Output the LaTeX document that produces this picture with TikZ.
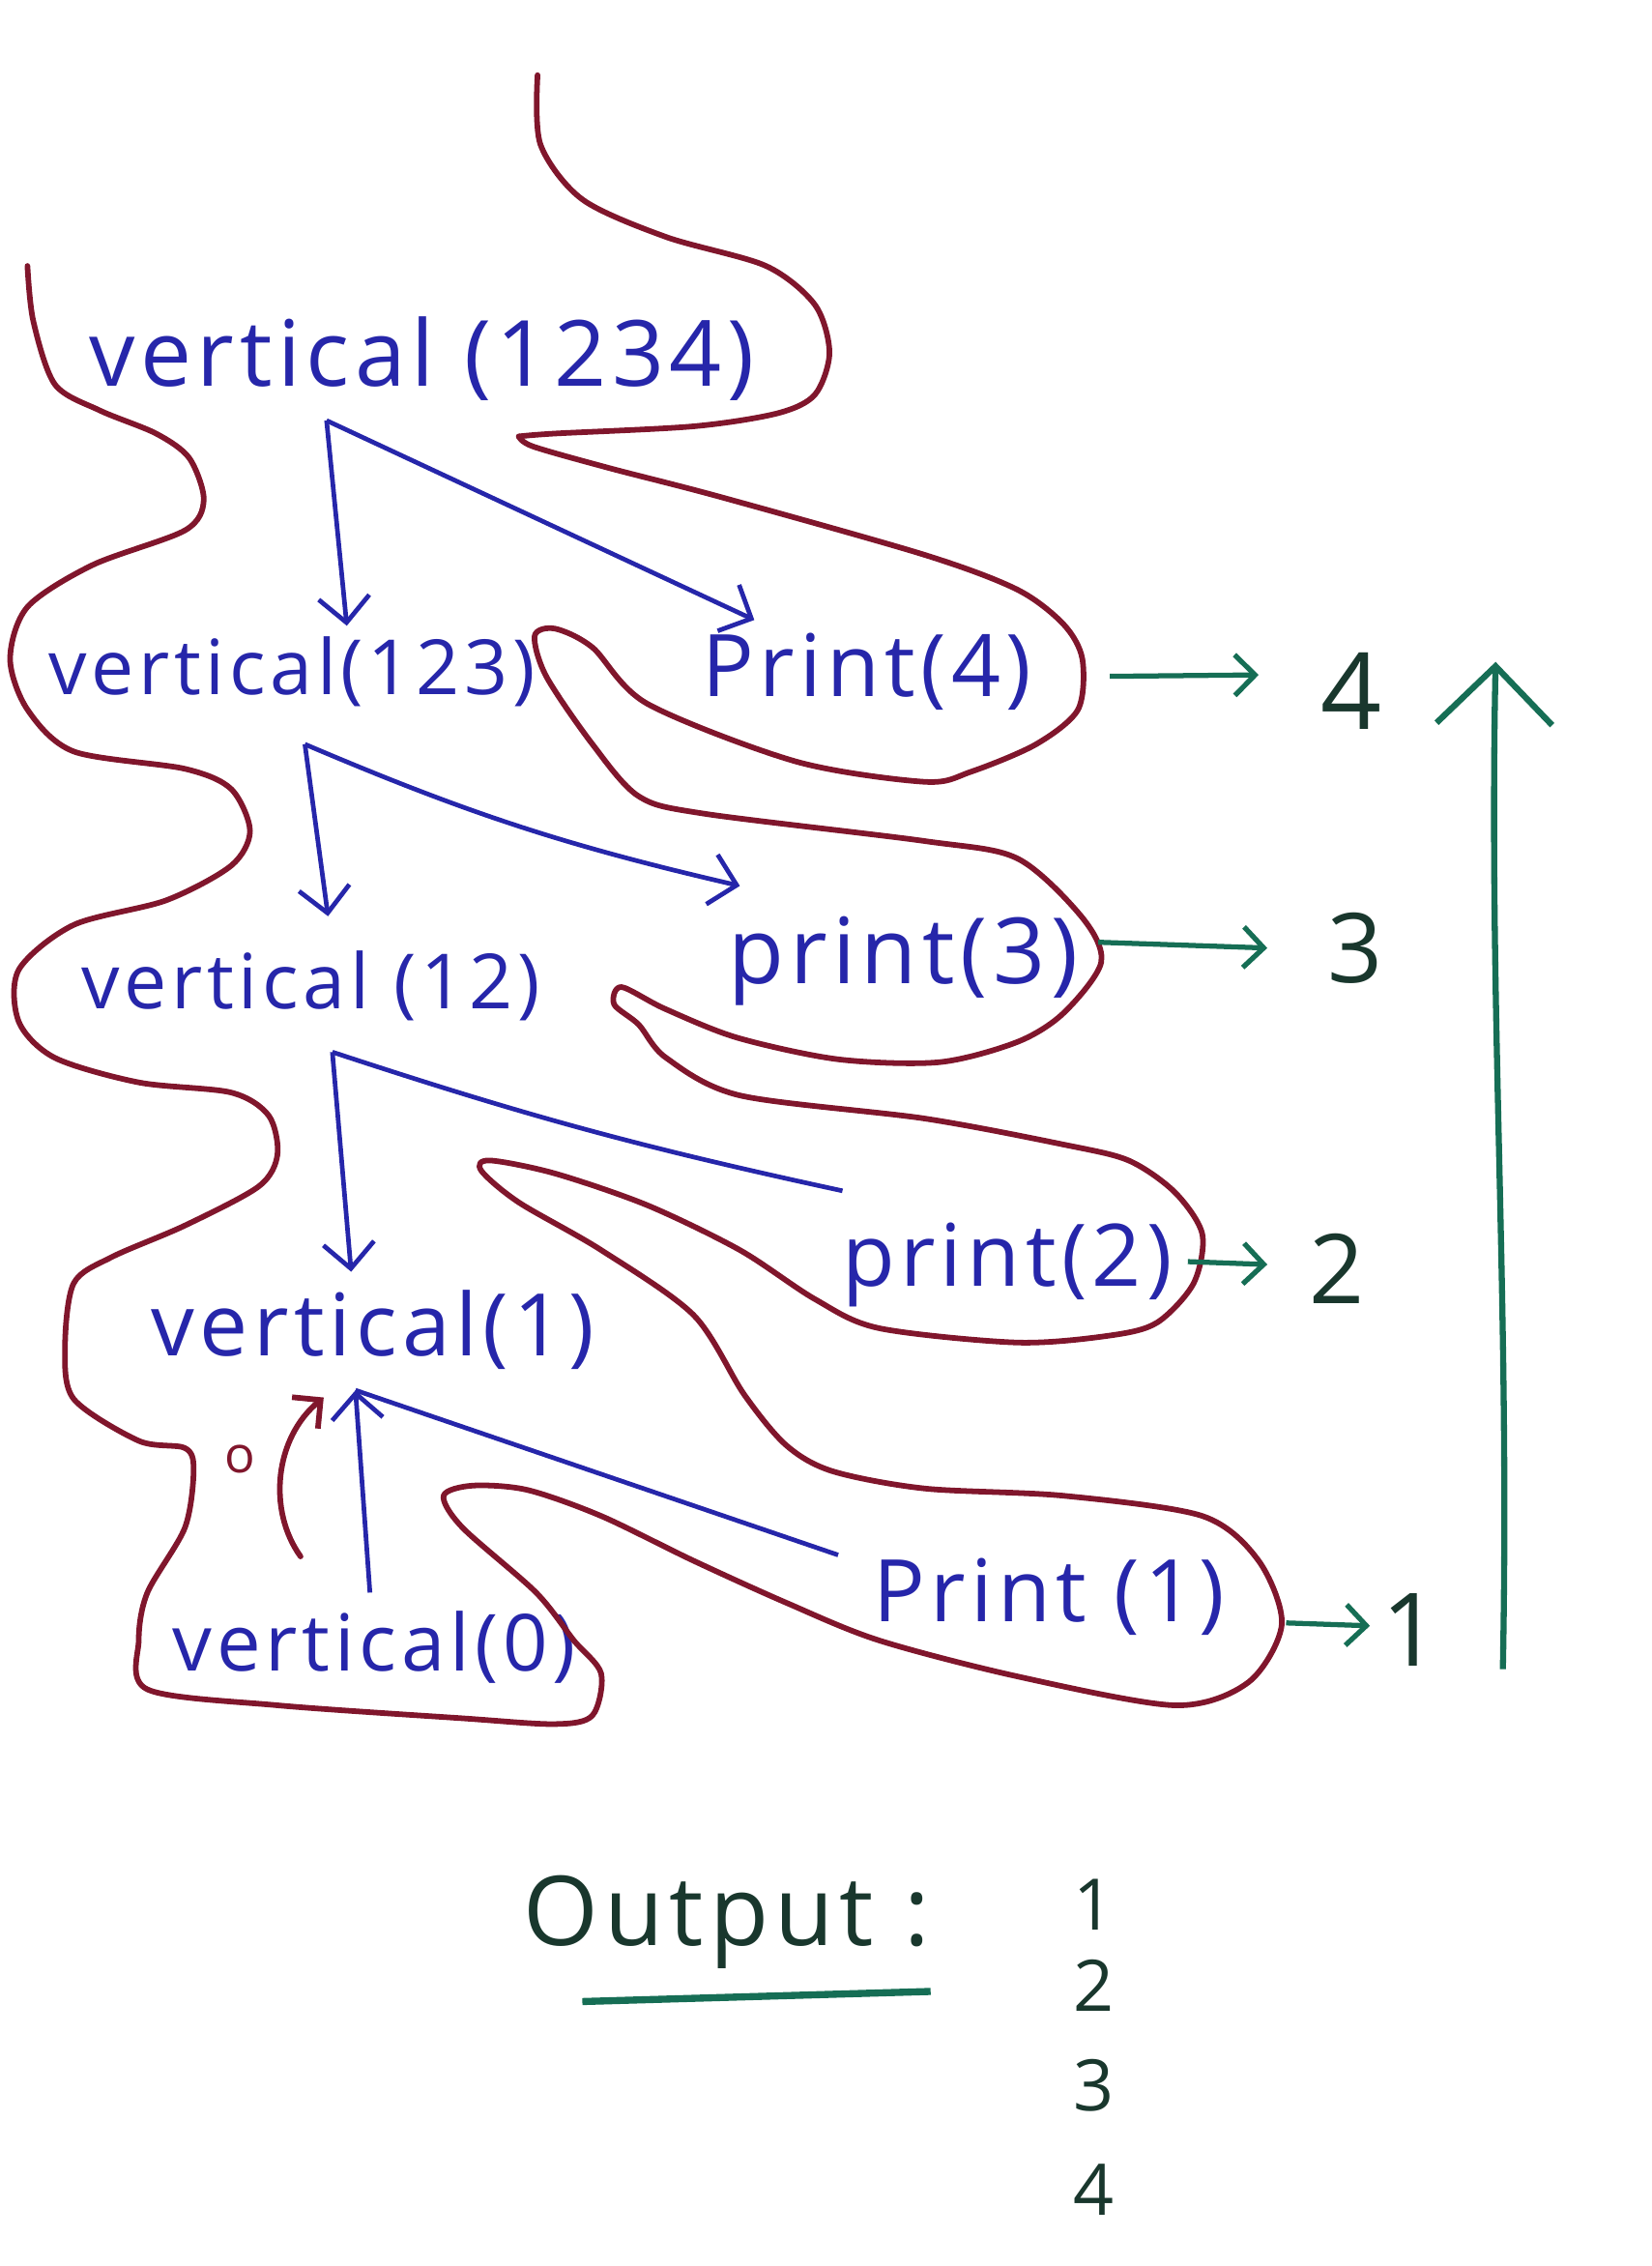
\documentclass[tikz,border=0pt]{standalone}
\usepackage{fontspec}
\setsansfont{Open Sans}[LetterSpace=6.0]
\usetikzlibrary{arrows.meta}

\tikzset{
  callnode/.style={font=\sffamily\fontsize{#1}{#1}\selectfont, text=penblue, inner sep=1pt},
  callnode/.default=16,
  outnode/.style={font=\sffamily\fontsize{19}{19}\selectfont, text=outcolor, inner sep=1pt},
  digit/.style={font=\sffamily\fontsize{#1}{#1}\selectfont, text=outcolor, inner sep=1pt},
  digit/.default=14,
  callarrow/.style={penblue, line width=0.9pt, -{Straight Barb[length=5pt,width=10pt]}},
  callline/.style={penblue, line width=0.9pt},
  outarrow/.style={inkgreen, line width=1pt, -{Straight Barb[length=4pt,width=8pt]}},
  stack/.style={stackcolor, line width=1.1pt, line join=round, line cap=round},
}

\begin{document}
\begin{tikzpicture}
  % Define colors
  \definecolor{penblue}{RGB}{38,38,170}
  \definecolor{stackcolor}{RGB}{128,22,44}
  \definecolor{inkgreen}{RGB}{22,110,85}
  \definecolor{outcolor}{RGB}{25,55,45}

  \useasboundingbox (0,0) rectangle (11.43,-15.68);

  % Recursive calls
  \node[callnode=18] (v4) at (2.92,-2.48) {vertical (1234)};
  \node[callnode=15] (v3) at (2.02,-4.65) {vertical(123)};
  \node[callnode=17] (p4) at (6.00,-4.65) {Print(4)};
  \node[callnode=15] (v2) at (2.15,-6.82) {vertical (12)};
  \node[callnode=18] (p3) at (6.25,-6.65) {print(3)};
  \node[callnode=17] (p2) at (6.97,-8.75) {print(2)};
  \node[callnode=17] (v1) at (2.58,-9.20) {vertical(1)};
  \node[callnode=15.5] (v0) at (2.59,-11.40) {vertical(0)};
  \node[callnode=17] (p1) at (7.26,-11.05) {Print (1)};

  % Call stack outline
  \draw[stack] plot[smooth, tension=0.5] coordinates {
    (3.72,-0.52) (3.74,-1.00) (4.03,-1.38) (4.61,-1.64) (5.30,-1.84) (5.64,-2.11)
    (5.74,-2.44) (5.64,-2.73) (5.38,-2.86) (4.80,-2.95) (3.84,-3.00) (3.59,-3.02)};
  \draw[stack] plot[smooth, tension=0.5] coordinates {
    (3.59,-3.02) (3.69,-3.09) (4.22,-3.24) (4.99,-3.44) (6.40,-3.84) (7.04,-4.08)
    (7.36,-4.32) (7.49,-4.56) (7.46,-4.91) (7.17,-5.15) (6.72,-5.34) (6.40,-5.41)
    (5.51,-5.27) (4.48,-4.87) (4.10,-4.48) (3.84,-4.35) (3.70,-4.40) (3.78,-4.68)
    (4.10,-5.15) (4.42,-5.51) (4.87,-5.63) (6.40,-5.82) (7.04,-5.94) (7.49,-6.35)
    (7.62,-6.66) (7.36,-7.01) (7.04,-7.21) (6.50,-7.35) (5.80,-7.33) (5.10,-7.18)
    (4.60,-6.98) (4.30,-6.83) (4.25,-6.95) (4.42,-7.09) (4.61,-7.32) (5.12,-7.58)
    (6.40,-7.74) (7.36,-7.92) (7.81,-8.03) (8.13,-8.25) (8.32,-8.54) (8.26,-8.88)
    (8.01,-9.15) (7.69,-9.24) (7.04,-9.29) (6.08,-9.19) (5.64,-8.99) (5.12,-8.65)
    (4.48,-8.34) (3.84,-8.12) (3.39,-8.03) (3.33,-8.10) (3.59,-8.32) (4.16,-8.65)
    (4.80,-9.10) (5.15,-9.65) (5.44,-10.00) (5.76,-10.18) (6.40,-10.30) (7.36,-10.35)
    (8.32,-10.49) (8.71,-10.80) (8.87,-11.24) (8.64,-11.64) (8.13,-11.80) (7.04,-11.60)
    (6.08,-11.35) (5.44,-11.09) (4.80,-10.80) (4.16,-10.49) (3.65,-10.31) (3.27,-10.28)
    (3.07,-10.35) (3.20,-10.57) (3.71,-11.02) (3.97,-11.35) (4.16,-11.58) (4.10,-11.87)
    (3.84,-11.93) (3.20,-11.89) (1.92,-11.80) (1.02,-11.69) (0.96,-11.35) (1.02,-11.02)
    (1.28,-10.57) (1.34,-10.17) (1.28,-10.02) (0.96,-9.97) (0.51,-9.68) (0.45,-9.32)
    (0.51,-8.88) (0.77,-8.70) (1.28,-8.48) (1.79,-8.21) (1.92,-7.99) (1.86,-7.72)
    (1.60,-7.56) (0.96,-7.49) (0.38,-7.32) (0.13,-7.07) (0.13,-6.71) (0.51,-6.40)
    (1.15,-6.23) (1.60,-5.99) (1.73,-5.75) (1.60,-5.46) (1.28,-5.32) (0.51,-5.20)
    (0.19,-4.91) (0.07,-4.56) (0.19,-4.20) (0.64,-3.91) (1.28,-3.67) (1.41,-3.46)
    (1.31,-3.17) (1.08,-3.00) (0.69,-2.84) (0.38,-2.66) (0.23,-2.22) (0.19,-1.84)};

  % Call arrows
  \coordinate (s4) at (2.26,-2.91);
  \coordinate (s3) at (2.11,-5.15);
  \coordinate (s2) at (2.30,-7.28);
  \coordinate (s1) at (2.46,-9.62);
  \coordinate (d3) at (2.40,-4.33);
  \coordinate (d2) at (2.27,-6.34);
  \coordinate (d1) at (2.43,-8.80);
  \coordinate (d0) at (2.56,-11.02);
  \coordinate (e4) at (5.22,-4.29);
  \coordinate (e3) at (5.12,-6.13);
  \coordinate (e2) at (5.83,-8.24);
  \coordinate (e1) at (5.80,-10.76);

  \draw[callarrow] (s4) -- (d3);
  \draw[callarrow] (s4) -- (e4);
  \draw[callarrow] (s3) -- (d2);
  \draw[callarrow] (s3) to[bend right=5] (e3);
  \draw[callarrow] (s2) -- (d1);
  \draw[callline] (s2) to[bend right=3] (e2);
  \draw[callarrow, {Straight Barb[length=5pt,width=10pt]}-] (s1) -- (d0);
  \draw[callline] (s1) -- (e1);

  % Return from base case
  \coordinate (r0) at (2.08,-10.77);
  \coordinate (r1) at (2.24,-9.67);
  \draw[stack, -{Straight Barb[length=4pt,width=8pt]}] (r0) .. controls (1.85,-10.45) and (1.90,-9.95) .. (r1);
  \node[font=\sffamily\fontsize{10}{10}\selectfont, text=stackcolor, inner sep=0pt] (zero) at (1.66,-10.10) {o};

  % Printed values
  \coordinate (g4a) at (7.68,-4.68); \coordinate (g4b) at (8.71,-4.67);
  \coordinate (g3a) at (7.60,-6.52); \coordinate (g3b) at (8.77,-6.56);
  \coordinate (g2a) at (8.22,-8.73); \coordinate (g2b) at (8.77,-8.75);
  \coordinate (g1a) at (8.90,-11.23); \coordinate (g1b) at (9.48,-11.25);
  \draw[outarrow] (g4a) -- (g4b);
  \draw[outarrow] (g3a) -- (g3b);
  \draw[outarrow] (g2a) -- (g2b);
  \draw[outarrow] (g1a) -- (g1b);
  \node[digit=21] (r4) at (9.35,-4.78) {4};
  \node[digit=19] (r3) at (9.38,-6.56) {3};
  \node[digit=19] (r2) at (9.25,-8.78) {2};
  \node[digit=20] (r1) at (9.76,-11.28) {1};

  % Unwinding direction
  \coordinate (up0) at (10.40,-11.55);
  \coordinate (up1) at (10.35,-4.58);
  \draw[inkgreen, line width=1.2pt, -{Straight Barb[length=0.4cm,width=0.8cm]}]
    (up0) .. controls (10.45,-9.00) and (10.30,-7.00) .. (up1);

  % Output
  \node[outnode] (out) at (5.03,-13.30) {Output :};
  \coordinate (u0) at (4.03,-13.85);
  \coordinate (u1) at (6.44,-13.78);
  \draw[inkgreen, line width=1.4pt] (u0) -- (u1);
  \foreach \d/\y in {1/13.18, 2/13.74, 3/14.43, 4/15.15}
    \node[digit] (o\d) at (7.57,-\y) {\d};
\end{tikzpicture}
\end{document}
